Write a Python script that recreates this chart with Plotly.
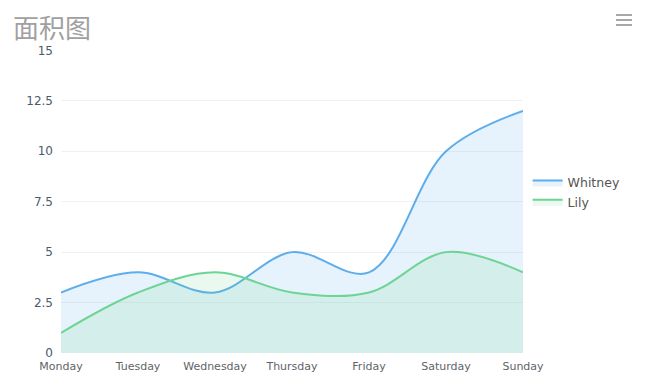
import plotly.graph_objects as go

days = ["Monday", "Tuesday", "Wednesday", "Thursday", "Friday", "Saturday", "Sunday"]
whitney = [3, 4, 3, 5, 4, 10, 12]
lily = [1, 3, 4, 3, 3, 5, 4]
y_ticks = [0, 2.5, 5, 7.5, 10, 12.5, 15]
y_tick_labels = ["0", "2.5", "5", "7.5", "10", "12.5", "15"]

fig = go.Figure()
fig.add_trace(go.Scatter(
    x=days, y=whitney, name="Whitney", mode="lines",
    line=dict(color="#5dadeb", width=2, shape="spline", smoothing=1),
    fill="tozeroy", fillcolor="rgba(93,173,235,0.15)",
))
fig.add_trace(go.Scatter(
    x=days, y=lily, name="Lily", mode="lines",
    line=dict(color="#6ed494", width=2, shape="spline", smoothing=1),
    fill="tozeroy", fillcolor="rgba(110,212,148,0.15)",
))

font_main = "'DejaVu Sans', Verdana, sans-serif"

# page has an 8px body margin: figure coordinates = reference - 8
W, H = 638, 380
L, T, PW, PH = 53, 42, 462, 303

# hamburger toolbar icon
for py in [7, 12, 17]:
    yy = (T + PH - py) / PH
    fig.add_shape(type="line", xref="paper", yref="paper",
                  x0=(608 - L) / PW, x1=(624 - L) / PW, y0=yy, y1=yy,
                  line=dict(color="#a8a8a8", width=2))

fig.update_layout(
    width=W, height=H,
    margin=dict(l=L, r=W - L - PW, t=T, b=H - T - PH, autoexpand=False),
    paper_bgcolor="white", plot_bgcolor="white",
    title=dict(text="面积图", x=5 / W, xref="container", xanchor="left",
               y=1 - 21 / H, yref="container", yanchor="middle", automargin=False,
               font=dict(family="'Noto Sans CJK SC', sans-serif", size=26, color="#a0a0a0")),
    font=dict(family=font_main),
    showlegend=True,
    legend=dict(x=1.01, xanchor="left", y=0.53, yanchor="middle",
                font=dict(size=12.5, color="#555555"), tracegroupgap=0,
                itemwidth=30, bgcolor="rgba(0,0,0,0)", traceorder="normal"),
    xaxis=dict(
        range=[0, 6], showgrid=False, zeroline=False, showline=False, automargin=False,
        tickfont=dict(size=11, color="#5f6368"), ticks="", ticklen=0,
        ticklabelstandoff=5,
    ),
    yaxis=dict(
        range=[0, 15.02], tickvals=y_ticks, ticktext=y_tick_labels, automargin=False,
        showgrid=True, gridcolor="#f1f1f1", gridwidth=1, zeroline=False,
        showline=False, tickfont=dict(size=12, color="#4b5a6b"),
        ticks="", ticklabelstandoff=7,
    ),
)

fig.write_html("out.html")
